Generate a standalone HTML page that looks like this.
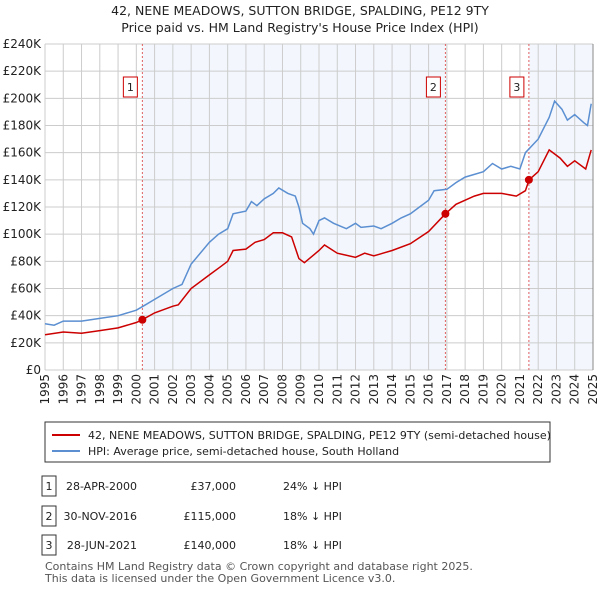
<!DOCTYPE html>
<html><head><meta charset="utf-8"><style>
body{margin:0;background:#fff;font-family:"Liberation Sans","DejaVu Sans",sans-serif;}
svg text{font-family:"DejaVu Sans","Liberation Sans",sans-serif;}
</style></head><body>
<svg id="c" width="600" height="590" xmlns="http://www.w3.org/2000/svg">
<text x="300" y="15" text-anchor="middle" font-size="12.5" fill="#222">42, NENE MEADOWS, SUTTON BRIDGE, SPALDING, PE12 9TY</text>
<text x="300" y="32" text-anchor="middle" font-size="12.5" fill="#222">Price paid vs. HM Land Registry's House Price Index (HPI)</text>
<g id="plot"></g>
<g>
<rect x="45" y="422" width="505" height="40" fill="#fff" stroke="#333"/>
<line x1="52" y1="435" x2="80" y2="435" stroke="#cc0000" stroke-width="2"/>
<text x="88" y="439" font-size="11" fill="#222">42, NENE MEADOWS, SUTTON BRIDGE, SPALDING, PE12 9TY (semi-detached house)</text>
<line x1="52" y1="451" x2="80" y2="451" stroke="#5b8fd1" stroke-width="2"/>
<text x="88" y="455" font-size="11" fill="#222">HPI: Average price, semi-detached house, South Holland</text>
</g>
<g id="tbl" font-size="11" fill="#222"></g>
<text x="45" y="570" font-size="11" fill="#555">Contains HM Land Registry data © Crown copyright and database right 2025.</text>
<text x="45" y="582" font-size="11" fill="#555">This data is licensed under the Open Government Licence v3.0.</text>
</svg>
<script>
const yTicks=[0,20,40,60,80,100,120,140,160,180,200,220,240];
const years=[1995,1996,1997,1998,1999,2000,2001,2002,2003,2004,2005,2006,2007,2008,2009,2010,2011,2012,2013,2014,2015,2016,2017,2018,2019,2020,2021,2022,2023,2024,2025];
const hpiT=[1995,1995.5,1996,1997,1998,1999,2000,2000.5,2001,2002,2002.5,2003,2004,2004.5,2005,2005.3,2006,2006.3,2006.6,2007,2007.5,2007.8,2008.3,2008.7,2008.9,2009.1,2009.5,2009.7,2010,2010.3,2010.8,2011.5,2012,2012.3,2013,2013.4,2014,2014.5,2015,2015.5,2016,2016.3,2017,2017.5,2018,2019,2019.5,2020,2020.5,2021,2021.3,2022,2022.6,2022.9,2023.3,2023.6,2024,2024.5,2024.7,2024.9];
const hpiV=[34,33,36,36,38,40,44,48,52,60,63,78,94,100,104,115,117,124,121,126,130,134,130,128,120,108,104,100,110,112,108,104,108,105,106,104,108,112,115,120,125,132,133,138,142,146,152,148,150,148,160,170,186,198,192,184,188,182,180,196];
const ppT=[1995,1996,1997,1998,1999,2000,2000.33,2001,2002,2002.3,2003,2004,2004.6,2005,2005.3,2006,2006.5,2007,2007.5,2008,2008.5,2008.9,2009.2,2010,2010.3,2011,2012,2012.5,2013,2014,2015,2016,2016.92,2017.5,2018.5,2019,2020,2020.8,2021.3,2021.5,2022,2022.6,2023.2,2023.6,2024,2024.6,2024.9];
const ppV=[26,28,27,29,31,35,37,42,47,48,60,70,76,80,88,89,94,96,101,101,98,82,79,88,92,86,83,86,84,88,93,102,115,122,128,130,130,128,132,140,146,162,156,150,154,148,162];
const saleT=[2000.33,2016.92,2021.49];
const saleV=[37,115,140];
const saleLabels=["1","2","3"];
const saleDates=["28-APR-2000","30-NOV-2016","28-JUN-2021"];
const salePrices=["£37,000","£115,000","£140,000"];
const saleHpi=["24% ↓ HPI","18% ↓ HPI","18% ↓ HPI"];

const L=45,R=593,T=44,B=370;
const X=t=>L+(t-1995)/30*(R-L);
const Y=v=>B-v/240*(B-T);
const NS="http://www.w3.org/2000/svg";
const plot=document.getElementById('plot');
function mk(tag,attrs,parent){const e=document.createElementNS(NS,tag);for(const k in attrs)e.setAttribute(k,attrs[k]);(parent||plot).appendChild(e);return e;}
// shading
let s=mk('rect',{x:X(saleT[0]),y:T,width:X(saleT[1])-X(saleT[0]),height:B-T,fill:'#eef3fc',opacity:0.7});


s=mk('rect',{x:X(saleT[2]),y:T,width:R-X(saleT[2]),height:B-T,fill:'#eef3fc',opacity:0.7});


// grid
yTicks.forEach(v=>{
 const g=mk('line',{x1:L,x2:R,y1:Y(v),y2:Y(v),stroke:'#cccccc','stroke-width':1});
 
 
 const t=mk('text',{x:L-4,y:Y(v)+4,'text-anchor':'end','font-size':12,fill:'#222'});
 t.textContent='£'+(v===0?'0':v+'K');
 
 
});
years.forEach(y=>{
 const g=mk('line',{x1:X(y),x2:X(y),y1:T,y2:B,stroke:'#cccccc','stroke-width':1});
 
 
 const t=mk('text',{x:0,y:0,'text-anchor':'end','font-size':12,fill:'#222',transform:`translate(${X(y)+4},374) rotate(-90)`});
 t.textContent=y;
 
 
});
const ax=mk('line',{x1:R,x2:R,y1:T,y2:B,stroke:'#888','stroke-width':1});


// sale vlines + labels
saleT.forEach((t,i)=>{
 const l=mk('line',{x1:X(t),x2:X(t),y1:T,y2:B,stroke:'#e06060','stroke-width':1,'stroke-dasharray':'2,2'});
 
 
 const r=mk('rect',{x:X(t)-19,y:77,width:14,height:20,fill:'#fff',stroke:'#cc0000'});
 
 
 const tx=mk('text',{x:X(t)-12,y:91,'text-anchor':'middle','font-size':11,fill:'#222'});
 tx.textContent=saleLabels[i];
 
 
});
const pts=(ts,vs)=>ts.map((t,i)=>X(t).toFixed(1)+','+Y(vs[i]).toFixed(1)).join(' ');
const h=mk('polyline',{points:pts(hpiT,hpiV),fill:'none',stroke:'#5b8fd1','stroke-width':1.5});


const p=mk('polyline',{points:pts(ppT,ppV),fill:'none',stroke:'#cc0000','stroke-width':1.5});


saleT.forEach((t,i)=>{
 const c=mk('circle',{cx:X(t),cy:Y(saleV[i]),r:4,fill:'#cc0000'});
 
 
});
// table
const tbl=document.getElementById('tbl');
const rowY=[486,516,545];
saleLabels.forEach((lab,i)=>{
 const y=rowY[i];
 const r=mk('rect',{x:42,y:y-10,width:14,height:20,fill:'#fff',stroke:'#333'},tbl);
 
 
 const a=mk('text',{x:49,y:y+4,'text-anchor':'middle'},tbl);a.textContent=lab;
 
 
 const d=mk('text',{x:137,y:y+4,'text-anchor':'end'},tbl);d.textContent=saleDates[i];
 
 
 const pr=mk('text',{x:236,y:y+4,'text-anchor':'end'},tbl);pr.textContent=salePrices[i];
 
 
 const hp=mk('text',{x:283,y:y+4},tbl);hp.textContent=saleHpi[i];
 
 
});
</script>
</body></html>
